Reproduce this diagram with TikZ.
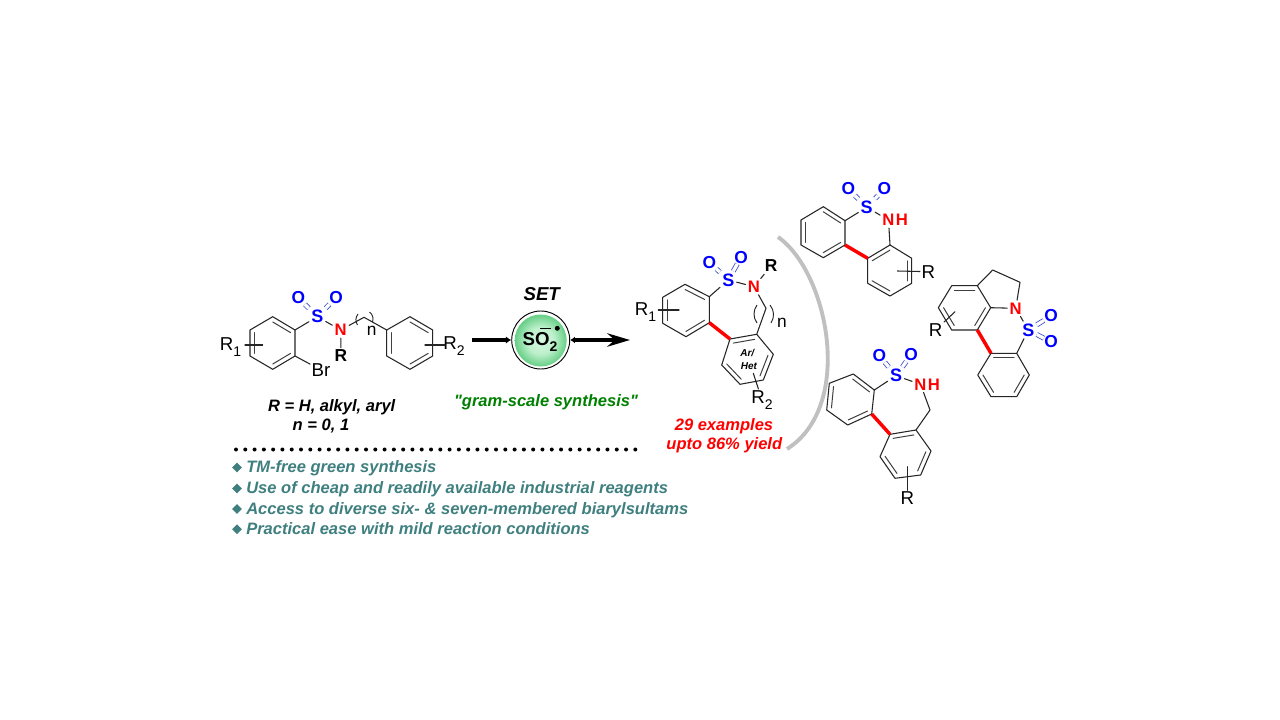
\documentclass[tikz,border=0pt]{standalone}
\usepackage{fontspec}
\setmainfont{Liberation Sans}
\newfontfamily\qf{Liberation Sans}
\usetikzlibrary{calc,arrows.meta,shapes.geometric}
\definecolor{sobl}{HTML}{3A4AC8}
\definecolor{teal2}{HTML}{3F7F7F}
\definecolor{grn}{HTML}{008000}
\definecolor{arcg}{HTML}{C0C0C0}
\pgfdeclareradialshading{gball}{\pgfpoint{0bp}{0bp}}{rgb(0bp)=(.85,.97,.88); rgb(13bp)=(.74,.94,.80); rgb(25bp)=(.40,.81,.52); rgb(50bp)=(.40,.81,.52)}
\newcommand\lowr[1]{\raisebox{-0.32em}{\fontsize{10.5}{10.5}\selectfont #1}}
\tikzset{
 bond/.style={draw=black!85,line width=0.8pt,line join=round,line cap=round},
 inbond/.style={draw=black!75,line width=0.75pt,line cap=round},
 redbond/.style={draw=red,line width=2.6pt},
 sobond/.style={draw=sobl,line width=0.6pt,double=white,double distance=2.5pt},
 sulf/.style={font=\fontsize{13.5}{13.5}\selectfont\bfseries,text=blue,inner sep=1.6pt},
 nitro/.style={font=\fontsize{12.5}{12.5}\selectfont\bfseries,text=red,inner sep=1.6pt},
 oxy/.style={font=\fontsize{13}{13}\selectfont\bfseries,text=blue,inner sep=0.2pt},
 rlab/.style={font=\fontsize{14}{14}\selectfont,text=black,inner sep=1pt},
 rbold/.style={font=\fontsize{13}{13}\selectfont\bfseries,text=black,inner sep=1.6pt},
 note/.style={font=\fontsize{12.4}{12.4}\selectfont\bfseries\itshape,text=black,inner sep=0pt,anchor=base},
 teal3/.style={font=\fontsize{12.4}{12.4}\selectfont\bfseries\itshape,text=teal2,anchor=base west,inner sep=0pt},
 redn/.style={font=\fontsize{12.4}{12.4}\selectfont\bfseries\itshape,text=red,inner sep=0pt,anchor=base},
 bul/.style={diamond,fill=teal2,inner sep=0pt,minimum size=7.5pt},
 paren/.style={draw=black!85,line width=0.7pt},
}
\newcommand\hexa[7]{%
 \coordinate (#1a) at (#2);\coordinate (#1b) at (#3);\coordinate (#1c) at (#4);
 \coordinate (#1d) at (#5);\coordinate (#1e) at (#6);\coordinate (#1f) at (#7);
 \coordinate (#1m) at ($(#1a)!.5!(#1d)$);
 \draw[bond] (#1a)--(#1b)--(#1c)--(#1d)--(#1e)--(#1f)--cycle;
 \draw[inbond] ($(#1a)!.2!(#1m)$)--($(#1b)!.2!(#1m)$);
 \draw[inbond] ($(#1c)!.2!(#1m)$)--($(#1d)!.2!(#1m)$);
 \draw[inbond] ($(#1e)!.2!(#1m)$)--($(#1f)!.2!(#1m)$);
}
\begin{document}
\begin{tikzpicture}[x=0.75pt,y=-0.75pt]
\useasboundingbox (0,0) rectangle (1280,720);
\fill[white] (0,0) rectangle (1280,720);
% ---- substrate
\hexa{A}{272.7,316.7}{295,330}{295,356}{272.7,369.3}{250,356}{250,330}
\hexa{B}{410,316.7}{432.7,330}{432.7,356}{410,369.3}{386.7,356}{386.7,330}
\node[sulf] (S1) at (317.3,316.7) {S};
\node[oxy] (O1a) at (298.3,297.7) {O};
\node[oxy] (O1b) at (336,297.7) {O};
\node[nitro] (N1) at (340.7,330) {N};
\node[rbold] (R1b) at (341,356) {R};
\node[rlab] (Br) at (321,370) {Br};
\node[rlab] (R1l) at (230.5,347) {R\lowr{1}};
\node[rlab] (R2l) at (454,346) {R\lowr{2}};
\node[rlab,font=\fontsize{13}{13}\selectfont] (nn1) at (371.7,331) {n};
\coordinate (C1) at (364,317.3);
\coordinate (T1a) at (245,345);\coordinate (T1b) at (262.7,345);
\coordinate (T2a) at (425,345);\coordinate (T2b) at (445,345);
\draw[bond] (S1)--(Ab);
\draw[bond] (S1)--(N1);
\draw[bond] (N1)--(R1b);
\draw[bond] (Ac)--(Br);
\draw[bond] (N1)--(C1)--(Bf);
\draw[sobond] (S1)--(O1a);
\draw[sobond] (S1)--(O1b);
\draw[bond] (T1a)--(T1b);
\draw[bond] (T2a)--(T2b);
\draw[paren] (357.5,325) to[bend left=35] (358,314);
\draw[paren] (369.5,312) to[bend left=35] (372.5,322);
\node[note] (cond1) at (331.7,411.7) {R = H, alkyl, aryl};
\node[note] (cond2) at (321,430.7) {n = 0, 1};
% ---- arrow and radical
\coordinate (arrS) at (472,340);
\coordinate (arrE) at (630,340);
\node[circle,draw=black,line width=0.7pt,minimum size=58*0.75pt,inner sep=0pt] (outc) at (540.7,340) {};
\node[circle,inner sep=0pt,minimum size=52*0.75pt,shading=gball] (inc) at (540.7,340.5) {};
\draw[line width=2.5pt,-{Latex[length=4pt,width=5.5pt]}] (arrS)--(outc);
\draw[line width=2.5pt,{Latex[length=3.5pt,width=5pt]}-{Stealth[length=17pt,width=10pt]}] (outc)--(arrE);
\node[rbold,font=\fontsize{14}{14}\selectfont\bfseries] (so2) at (540,342) {SO\lowr{2}};
\node[circle,fill=black,inner sep=0pt,minimum size=3.7pt] (rad) at (557.3,328.3) {};
\node[rectangle,fill=black,inner sep=0pt,minimum width=8pt,minimum height=0.6pt] (neg) at (545.7,328.3) {};
\node[note,font=\fontsize{14}{14}\selectfont\bfseries\itshape] (setl) at (541.7,300.7) {SET};
\node[note,text=grn,font=\fontsize{12.4}{12.4}\selectfont\qf\bfseries\itshape] (gram) at (546,406.7) {"gram-scale synthesis"};
% ---- general product
\hexa{C}{685,284.3}{709.3,296.7}{709.3,322.7}{686,336.7}{662.7,323.3}{662.7,297.3}
\hexa{D}{730,339}{756.7,334.3}{773.3,354.3}{763.3,380}{740,384.3}{721.7,365}
\node[sulf] (S2) at (728.3,280) {S};
\node[oxy] (O2a) at (709.3,262.3) {O};
\node[oxy] (O2b) at (741,257.3) {O};
\node[nitro] (N2) at (754,286.7) {N};
\node[rbold] (R2b) at (771,266) {R};
\node[rlab] (R21) at (645.5,312) {R\lowr{1}};
\node[rlab] (R22) at (762,400) {R\lowr{2}};
\node[rlab,font=\fontsize{13}{13}\selectfont] (nn2) at (782,323) {n};
\node[font=\fontsize{7.5}{7.5}\selectfont\bfseries\itshape,inner sep=0pt] (arl) at (747.3,353.3) {Ar/};
\node[font=\fontsize{7.5}{7.5}\selectfont\bfseries\itshape,inner sep=0pt] (hetl) at (749,366) {Het};
\coordinate (C2) at (766,308.3);
\coordinate (T3a) at (658.3,310);\coordinate (T3b) at (679,310);
\coordinate (T4a) at (753.3,373.3);
\draw[bond] (S2)--(Cb);
\draw[bond] (S2)--(N2);
\draw[bond] (N2)--(R2b);
\draw[bond] (N2)--(C2)--(Db);
\draw[sobond] (S2)--(O2a);
\draw[sobond] (S2)--(O2b);
\draw[redbond] (Cc)--(Da);
\draw[bond] (T3a)--(T3b);
\draw[bond] (T4a)--(R22);
\draw[paren] (757,305) to[bend right=35] (757,323);
\draw[paren] (770,305) to[bend left=35] (771,323);
\node[redn] (ex1) at (724,430.7) {29 examples};
\node[redn] (ex2) at (724.3,449.3) {upto 86\% yield};
% ---- gray arc
\coordinate (arcS) at (778,237);
\coordinate (arcE) at (787,449);
\draw[arcg,line width=2.9pt] (arcS) .. controls (828,272) and (855,406) .. (arcE);
% ---- top product
\hexa{E}{823.3,206.7}{845,220.7}{845,245}{823.3,257.7}{801,245}{801,220}
\hexa{F}{867.7,258.3}{890,245}{911.7,258.3}{911.7,283.3}{890,296}{867.7,283.3}
\node[sulf] (S3) at (866.7,207.3) {S};
\node[oxy] (O3a) at (848.3,189) {O};
\node[oxy] (O3b) at (884.3,189) {O};
\node[nitro] (N3) at (888.5,220) {N};
\node[nitro,anchor=west,inner sep=0pt,xshift=-1pt] (H3) at (N3.east) {H};
\node[rlab] (R3) at (928.3,271.7) {R};
\coordinate (T5) at (897.3,271);
\draw[bond] (S3)--(Eb);
\draw[bond] (S3)--(N3);
\draw[bond] (N3)--(Fb);
\draw[sobond] (S3)--(O3a);
\draw[sobond] (S3)--(O3b);
\draw[redbond] (Ec)--(Fa);
\draw[bond] (T5)--(R3);
% ---- right product
\hexa{G}{951.7,285.7}{977.3,285.7}{990.7,307.7}{977.3,330}{951.7,330}{938.3,307.7}
\hexa{H}{991,353.3}{1016.7,353.3}{1029.3,375}{1016.7,396.7}{991,396.7}{977.7,375}
\node[nitro] (N4) at (1015.7,308.3) {N};
\node[sulf] (S4) at (1028.3,330) {S};
\node[oxy] (O4a) at (1051,316) {O};
\node[oxy] (O4b) at (1051,342) {O};
\node[rlab] (R4) at (935.7,330) {R};
\coordinate (P1) at (992.7,270);\coordinate (P2) at (1020,282.3);
\coordinate (T6) at (955,311.7);
\draw[bond] (Gb)--(P1)--(P2)--(N4);
\draw[bond] (Gc)--(N4);
\draw[bond] (N4)--(S4);
\draw[bond] (S4)--(Hb);
\draw[sobond] (S4)--(O4a);
\draw[sobond] (S4)--(O4b);
\draw[redbond] (Gd)--(Ha);
\draw[bond] (R4)--(T6);
% ---- bottom product
\hexa{J}{853.3,374}{874.3,390}{871.7,414}{847.7,425}{826.7,410}{829.3,383.3}
\hexa{K}{890,434.3}{916,430}{931,451}{920.7,475}{895,478.3}{880,456.7}
\node[sulf] (S5) at (896,375.7) {S};
\node[oxy] (O5a) at (879.3,355.7) {O};
\node[oxy] (O5b) at (911,355) {O};
\node[nitro] (N5) at (920.5,384.3) {N};
\node[nitro,anchor=west,inner sep=0pt,xshift=-1pt] (H5) at (N5.east) {H};
\node[rlab] (R5) at (907.3,498.3) {R};
\coordinate (C5) at (930,410);
\coordinate (T7) at (907.3,466.7);
\draw[bond] (S5)--(Jb);
\draw[bond] (S5)--(N5);
\draw[bond] (N5)--(C5)--(Kb);
\draw[sobond] (S5)--(O5a);
\draw[sobond] (S5)--(O5b);
\draw[redbond] (Jc)--(Ka);
\draw[bond] (T7)--(R5);
% ---- dots and list
\coordinate (dotS) at (236,449.5);
\coordinate (dotE) at (636.5,449.5);
\draw[line width=3pt,line cap=round,dash pattern=on 0pt off 6.965pt] (dotS)--(dotE);
\node[bul] (b1) at (237,467.5) {};
\node[bul] (b2) at (237,488.5) {};
\node[bul] (b3) at (237,509) {};
\node[bul] (b4) at (237,529.3) {};
\node[teal3] (t1) at (246,472.7) {TM-free green synthesis};
\node[teal3] (t2) at (246,493.3) {Use of cheap and readily available industrial reagents};
\node[teal3] (t3) at (246,514) {Access to diverse six- \& seven-membered biarylsultams};
\node[teal3] (t4) at (246,534.3) {Practical ease with mild reaction conditions};
\end{tikzpicture}
\end{document}
